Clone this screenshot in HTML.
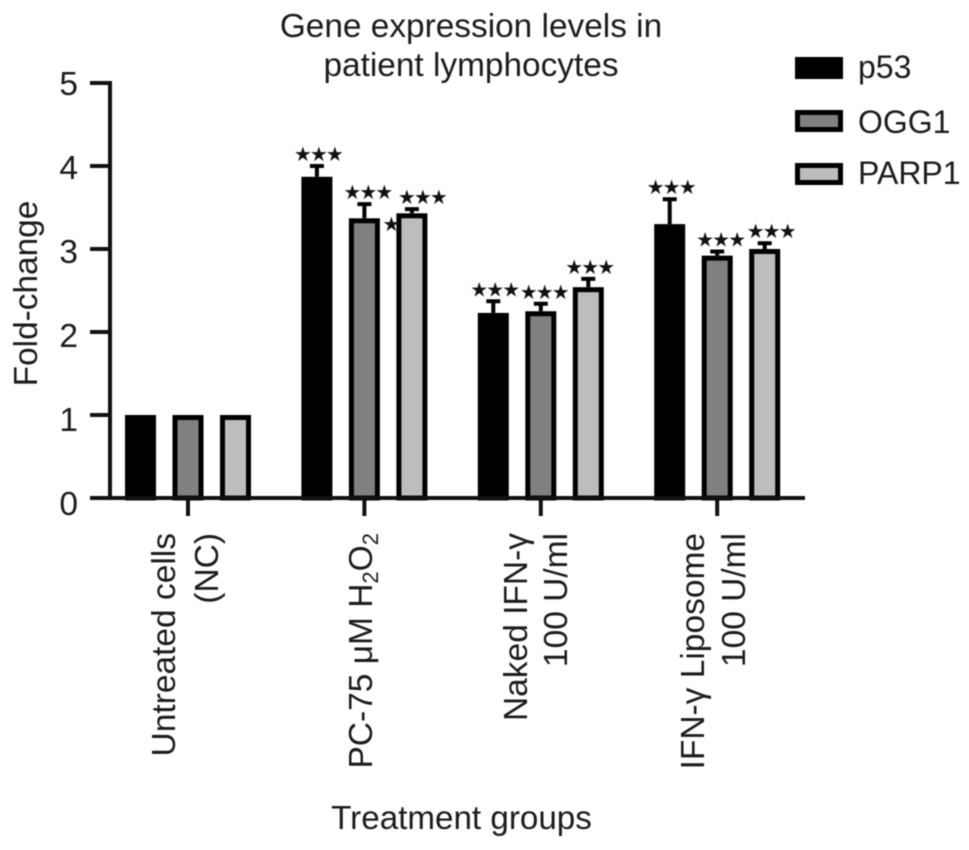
<!DOCTYPE html>
<html lang="en">
<head>
<meta charset="utf-8">
<title>Gene expression levels in patient lymphocytes</title>
<style>
html,body{margin:0;padding:0;background:#fff;width:969px;height:850px;overflow:hidden}
svg{display:block;filter:blur(0.6px)}
text{font-family:"Liberation Sans",Arial,sans-serif;fill:#1c1c1c}
</style>
</head>
<body>
<svg id="chart" xmlns="http://www.w3.org/2000/svg" width="969" height="850" viewBox="0 0 969 850">
  <g font-size="33.4" text-anchor="middle">
    <text x="471" y="37">Gene expression levels in</text>
    <text x="471" y="76">patient lymphocytes</text>
  </g>
  <text transform="translate(37,293.5) rotate(-90)" font-size="33.4" text-anchor="middle">Fold-change</text>
  <text x="461.5" y="829" font-size="33.2" text-anchor="middle">Treatment groups</text>
  <g id="bars"></g>
  <g id="axes"></g>
  <g id="cats" font-size="33.5" text-anchor="end">
    <g>
      <text transform="translate(175,533) rotate(-90)">Untreated cells</text>
      <text transform="translate(218,533) rotate(-90)">(NC)</text>
    </g>
    <g>
      <text transform="translate(372,533) rotate(-90)">PC-75 μM H<tspan font-size="22" dy="6">2</tspan><tspan dy="-6">O</tspan><tspan font-size="22" dy="6">2</tspan></text>
    </g>
    <g>
      <text transform="translate(527,533) rotate(-90)">Naked IFN-γ</text>
      <text transform="translate(567,533) rotate(-90)">100 U/ml</text>
    </g>
    <g>
      <text transform="translate(704,533) rotate(-90)">IFN-γ Liposome</text>
      <text transform="translate(745,533) rotate(-90)">100 U/ml</text>
    </g>
  </g>
  <g font-size="32">
    <g>
      <rect x="797.5" y="59.5" width="43" height="17" fill="#000" stroke="#000" stroke-width="5"/>
      <text x="858" y="78">p53</text>
    </g>
    <g>
      <rect x="797.5" y="112.5" width="43" height="17" fill="#808080" stroke="#000" stroke-width="5"/>
      <text x="858" y="133">OGG1</text>
    </g>
    <g>
      <rect x="797.5" y="165.5" width="43" height="17" fill="#bdbdbd" stroke="#000" stroke-width="5"/>
      <text x="858" y="184">PARP1</text>
    </g>
  </g>
</svg>
<script>
const categories = ["Untreated cells (NC)", "PC-75 uM H2O2", "Naked IFN-g 100 U/ml", "IFN-g Liposome 100 U/ml"];
const seriesNames = ["p53", "OGG1", "PARP1"];
const p53Values = [1.00, 3.87, 2.23, 3.30];
const ogg1Values = [1.00, 3.37, 2.25, 2.92];
const parp1Values = [1.00, 3.43, 2.54, 3.00];
const p53ErrorTops = [1.00, 4.00, 2.37, 3.60];
const ogg1ErrorTops = [1.00, 3.54, 2.34, 2.97];
const parp1ErrorTops = [1.00, 3.48, 2.64, 3.07];
const yTicks = [0, 1, 2, 3, 4, 5];
const significance = [null, "★★★", "★★★", "★★★"];

const NS = "http://www.w3.org/2000/svg";
const seriesValues = [p53Values, ogg1Values, parp1Values];
const seriesErrors = [p53ErrorTops, ogg1ErrorTops, parp1ErrorTops];
const seriesFills = ["#000000", "#808080", "#bdbdbd"];
const plotBottom = 498, unitHeight = 83;
const groupStart = 188, groupStep = 176.4, barStep = 47.5, barWidth = 31, strokeW = 5;
const yScale = v => plotBottom - v * unitHeight;
const yLabelScale = v => 515 - v * 84;
const xGroup = i => groupStart + i * groupStep;
const xBar = (i, s) => xGroup(i) + (s - 1) * barStep;

function make(tag, attrs, parent, text) {
  const el = document.createElementNS(NS, tag);
  for (const k in attrs) el.setAttribute(k, attrs[k]);
  if (text !== undefined) el.textContent = text;
  parent.appendChild(el);
  return el;
}

const barsG = document.getElementById("bars");
const axesG = document.getElementById("axes");

categories.forEach((cat, i) => {
  seriesNames.forEach((name, s) => {
    const v = seriesValues[s][i], e = seriesErrors[s][i], cx = xBar(i, s);
    if (e > v) {
      const errLine = make("path", {
        d: `M${cx} ${yScale(v)}V${yScale(e)}M${cx - 7} ${yScale(e)}H${cx + 7}`,
        fill: "none", stroke: "#000", "stroke-width": 4
      }, barsG);
      
      
    }
    const bar = make("rect", {
      x: cx - barWidth / 2 + strokeW / 2,
      y: yScale(v) + strokeW / 2,
      width: barWidth - strokeW,
      height: Math.max(0, plotBottom - yScale(v) - strokeW / 2),
      fill: seriesFills[s], stroke: "#000", "stroke-width": strokeW
    }, barsG);
    
    
    if (significance[i]) {
      const nudge = (i === 1 && s === 2) ? 9 : (i === 3 && s === 2) ? 5 : (s === 1 ? 2 : 0);
      const mark = make("text", {
        x: cx + nudge + 1, y: yScale(e) - 5,
        "text-anchor": "middle",
        "font-size": 20,
        style: 'font-family:"DejaVu Sans",sans-serif;letter-spacing:-1.9px;fill:#111'
      }, barsG, significance[i]);
      
      
    }
  });
});

const clippedStar = make("text", {
  x: xBar(1, 1) + 27, y: 231,
  "text-anchor": "middle", "font-size": 20,
  style: 'font-family:"DejaVu Sans",sans-serif;fill:#111'
}, barsG, "★");



const yAxis = make("line", {x1: 110, x2: 110, y1: yScale(5) - 2, y2: plotBottom + 2, stroke: "#111", "stroke-width": 4}, axesG);



const xAxis = make("line", {x1: 90, x2: 805, y1: plotBottom, y2: plotBottom, stroke: "#111", "stroke-width": 4}, axesG);



yTicks.forEach(t => {
  const tick = make("line", {x1: 90, x2: 110, y1: yScale(t), y2: yScale(t), stroke: "#111", "stroke-width": 4}, axesG);
  
  
  const label = make("text", {x: 78, y: yLabelScale(t), "text-anchor": "end", "font-size": 33.5}, axesG, String(t));
  
  
});

categories.forEach((cat, i) => {
  const tick = make("line", {x1: xGroup(i), x2: xGroup(i), y1: plotBottom, y2: 516, stroke: "#111", "stroke-width": 4}, axesG);
  
  
});
</script>
</body>
</html>
